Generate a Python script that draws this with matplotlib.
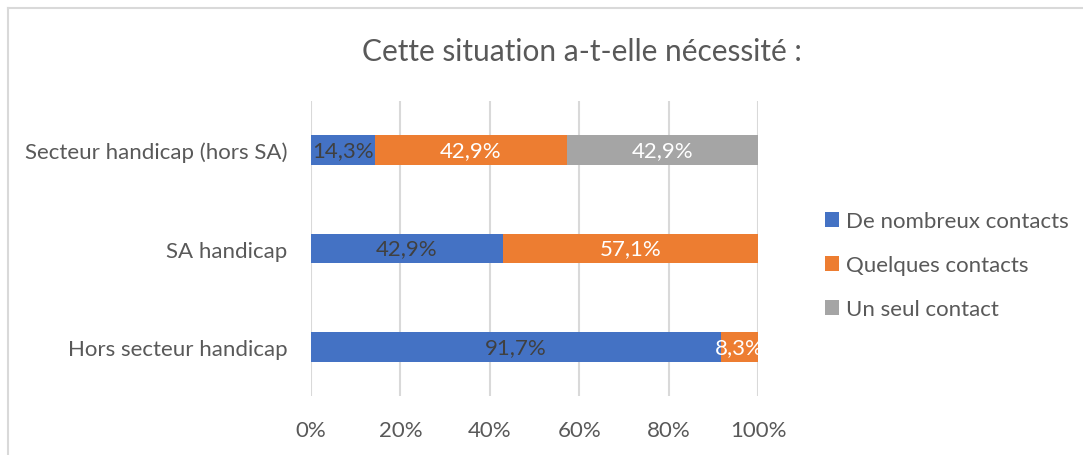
import matplotlib
matplotlib.use('Agg')
import matplotlib.pyplot as plt
import numpy as np

plt.rcParams['font.family'] = ['Lato', 'DejaVu Sans']

# données
categories = ['Hors secteur handicap', 'SA handicap', 'Secteur handicap (hors SA)']
series_names = ['De nombreux contacts', 'Quelques contacts', 'Un seul contact']
nombreux = [91.7, 42.9, 14.3]
quelques = [8.3, 57.1, 42.9]
seul = [0.0, 0.0, 42.9]
ticks = [0, 20, 40, 60, 80, 100]
tick_labels = ['0%', '20%', '40%', '60%', '80%', '100%']

couleurs = ['#4472C4', '#ED7D31', '#A5A5A5']
couleurs_txt = ['#404040', 'white', 'white']
gris = '#595959'

fig = plt.figure(figsize=(10.83, 4.56), dpi=100)
ax = fig.add_axes([311 / 1083, 1 - 397 / 456, 447 / 1083, 295 / 456])

y = np.arange(len(categories))
gauche = np.zeros(len(categories))
barres = []
for vals, nom, c, ct in zip([nombreux, quelques, seul], series_names, couleurs, couleurs_txt):
    vals = np.array(vals)
    b = ax.barh(y, vals, left=gauche, height=0.305, color=c, label=nom, zorder=3)
    barres.append(b)
    for yi, (g, v) in enumerate(zip(gauche, vals)):
        if v > 0:
            ax.text(g + v / 2, yi, ('%.1f%%' % v).replace('.', ','), ha='center', va='center',
                    color=ct, fontsize=16, zorder=4)
    gauche = gauche + vals

ax.set_xlim(0, 100)
ax.set_ylim(-0.5, 2.5)
ax.set_xticks(ticks)
ax.set_xticklabels(tick_labels)
ax.set_yticks(y)
ax.set_yticklabels(categories)
ax.tick_params(axis='both', length=0, labelsize=16, labelcolor=gris)
ax.tick_params(axis='x', pad=17)
ax.tick_params(axis='y', pad=17)
ax.grid(axis='x', color='#D9D9D9', linewidth=1.5, zorder=0)
for s in ax.spines.values():
    s.set_visible(False)

fig.text(582 / 1083, 1 - 52 / 456, 'Cette situation a-t-elle nécessité :', ha='center', va='center',
         fontsize=21.5, color=gris)

fig.legend(handles=barres, loc='center left', bbox_to_anchor=(805 / 1083, 1 - 266 / 456),
           frameon=False, fontsize=16, labelcolor=gris, handlelength=0.65, handleheight=0.65,
           handletextpad=0.3, labelspacing=1.08)

# cadre
fig.add_artist(plt.Line2D([8 / 1083, 8 / 1083], [0, 1 - 9 / 456], transform=fig.transFigure,
                          color='#D9D9D9', linewidth=1.5))
fig.add_artist(plt.Line2D([8 / 1083, 1], [1 - 9 / 456, 1 - 9 / 456], transform=fig.transFigure,
                          color='#D9D9D9', linewidth=1.5))

fig.savefig('out.png', dpi=100)
